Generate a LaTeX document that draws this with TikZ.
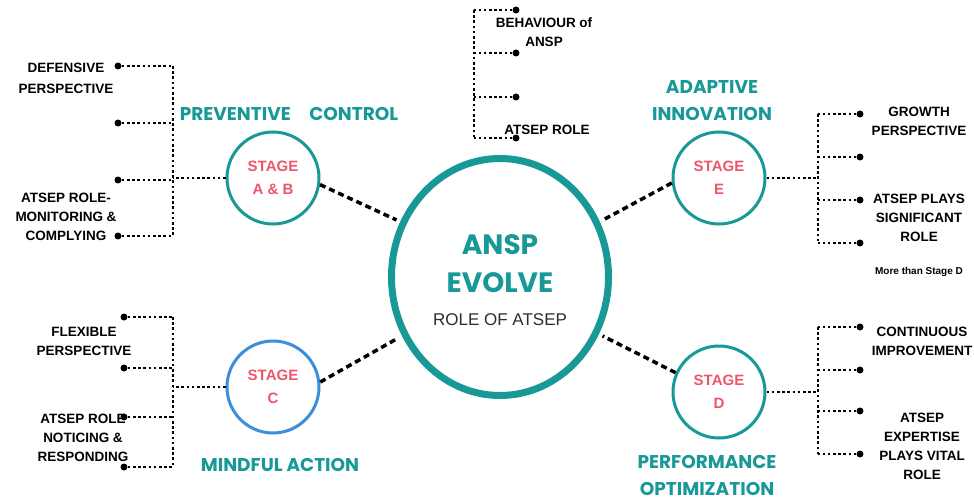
\documentclass[tikz,border=0pt]{standalone}
\usepackage{fontspec}
\setmainfont{Liberation Sans}
\newfontfamily\headfont{Poppins}
\usetikzlibrary{positioning, shapes.geometric}
\definecolor{ansteal}{RGB}{25,152,152}
\definecolor{stagepink}{RGB}{236,86,106}
\definecolor{stageblue}{RGB}{58,142,218}
\definecolor{notegray}{RGB}{45,45,45}

\begin{document}
\begin{tikzpicture}[x=1pt, y=-1pt,
            hub/.style={
                ellipse,
                draw=ansteal,
                line width=7pt,
                minimum width=217pt,
                minimum height=237pt
            },
            stage/.style={
                circle,
                draw=ansteal,
                line width=3pt,
                minimum size=92pt,
                inner sep=0pt,
                align=center,
                text=stagepink,
                font=\bfseries\fontsize{15}{23}\selectfont
            },
            phase/.style={
                text=ansteal,
                align=center,
                inner sep=0pt,
                font=\headfont\bfseries\fontsize{18.5}{27}\selectfont
            },
            point/.style={
                align=center,
                inner sep=0pt,
                font=\bfseries\fontsize{13.5}{19}\selectfont
            },
            bullet/.style={
                circle,
                fill=black,
                inner sep=0pt,
                minimum size=7pt
            },
            link/.style={
                line width=3.5pt,
                dash pattern=on 6pt off 4pt
            },
            branch/.style={
                line width=2.8pt,
                dash pattern=on 2.6pt off 2.6pt
            }
        ]
        \useasboundingbox (0,0) rectangle (974,500);

        % ANSP Evolve Node
        \node (hub) [hub] at (500,277) {};
        \node (hub title) [align=center, text=ansteal, font=\headfont\bfseries\fontsize{28}{38}\selectfont] at (500,264) {ANSP\\EVOLVE};
        \node (hub note) [text=notegray, font=\fontsize{17}{20}\selectfont] at (500,320) {ROLE OF ATSEP};

        % Stage Nodes
        \node (ab) [stage] at (273,178) {STAGE\\A \& B};
        \node (sc) [stage, draw=stageblue] at (273,387) {STAGE\\C};
        \node (se) [stage] at (719,178) {STAGE\\E};
        \node (sd) [stage] at (719,392) {STAGE\\D};

        % Phase Titles
        \node (preventive) [phase] at (289,114) {PREVENTIVE\quad CONTROL};
        \node (mindful) [phase] at (280,465) {MINDFUL ACTION};
        \node (adaptive) [phase] at (712,101) {ADAPTIVE\\INNOVATION};
        \node (performance) [phase] at (707,475) {PERFORMANCE\\OPTIMIZATION};

        % Links from Stages to ANSP
        \draw[link, shorten >=4pt] (ab.-8) -- (hub.151);
        \draw[link, shorten >=4pt] (sc.6) -- (hub.211);
        \draw[link, shorten >=4pt] (se.186) -- (hub.29);
        \draw[link, shorten >=4pt] (sd.156) -- (hub.-30);

        % Branches of Stage A & B
        \foreach \y [count=\i] in {66,123,180,236} {
            \node (ab dot \i) [bullet] at (118,\y) {};
            \coordinate (ab joint \i) at (173,\y);
            \draw[branch] (ab dot \i) -- (ab joint \i);
        }
        \draw[branch] (ab joint 1) -- (ab joint 4);
        \draw[branch] (ab.west) -- (ab.west -| ab joint 1);
        \node (defensive) [point, font=\bfseries\fontsize{13.5}{21}\selectfont] at (66,78) {DEFENSIVE\\PERSPECTIVE};
        \node (monitoring) [point] at (66,217) {ATSEP ROLE-\\MONITORING \&\\COMPLYING};

        % Branches of Stage C
        \foreach \y [count=\i] in {317,368,417,467} {
            \node (sc dot \i) [bullet] at (124,\y) {};
            \coordinate (sc joint \i) at (173,\y);
            \draw[branch] (sc dot \i) -- (sc joint \i);
        }
        \draw[branch] (sc joint 1) -- (sc joint 4);
        \draw[branch] (sc.west) -- (sc.west -| sc joint 1);
        \node (flexible) [point] at (84,341) {FLEXIBLE\\PERSPECTIVE};
        \node (noticing) [point] at (83,438) {ATSEP ROLE\\NOTICING \&\\RESPONDING};

        % Branches of Stage E
        \foreach \y [count=\i] in {114,157,200,243} {
            \node (se dot \i) [bullet] at (860,\y) {};
            \coordinate (se joint \i) at (818,\y);
            \draw[branch] (se dot \i) -- (se joint \i);
        }
        \draw[branch] (se joint 1) -- (se joint 4);
        \draw[branch] (se.east) -- (se.east -| se joint 1);
        \node (growth) [point] at (919,121) {GROWTH\\PERSPECTIVE};
        \node (significant) [point] at (919,218) {ATSEP PLAYS\\SIGNIFICANT\\ROLE};
        \node (more) [point, font=\bfseries\fontsize{10}{12}\selectfont] at (919,272) {More than Stage D};

        % Branches of Stage D
        \foreach \y [count=\i] in {327,370,411,454} {
            \node (sd dot \i) [bullet] at (860,\y) {};
            \coordinate (sd joint \i) at (818,\y);
            \draw[branch] (sd dot \i) -- (sd joint \i);
        }
        \draw[branch] (sd joint 1) -- (sd joint 4);
        \draw[branch] (sd.east) -- (sd.east -| sd joint 1);
        \node (continuous) [point] at (922,341) {CONTINUOUS\\IMPROVEMENT};
        \node (expertise) [point] at (922,446) {ATSEP\\EXPERTISE\\PLAYS VITAL\\ROLE};

        % Behaviour of ANSP
        \foreach \y [count=\i] in {10,53,97,138} {
            \node (top dot \i) [bullet] at (516,\y) {};
            \coordinate (top joint \i) at (474,\y);
            \draw[branch] (top dot \i) -- (top joint \i);
        }
        \draw[branch] (top joint 1) -- (top joint 4);
        \node (behaviour) [point] at (544,32) {BEHAVIOUR of\\ANSP};
        \node (atsep role) [point] at (547,130) {ATSEP ROLE};

        \end{tikzpicture}
\end{document}
